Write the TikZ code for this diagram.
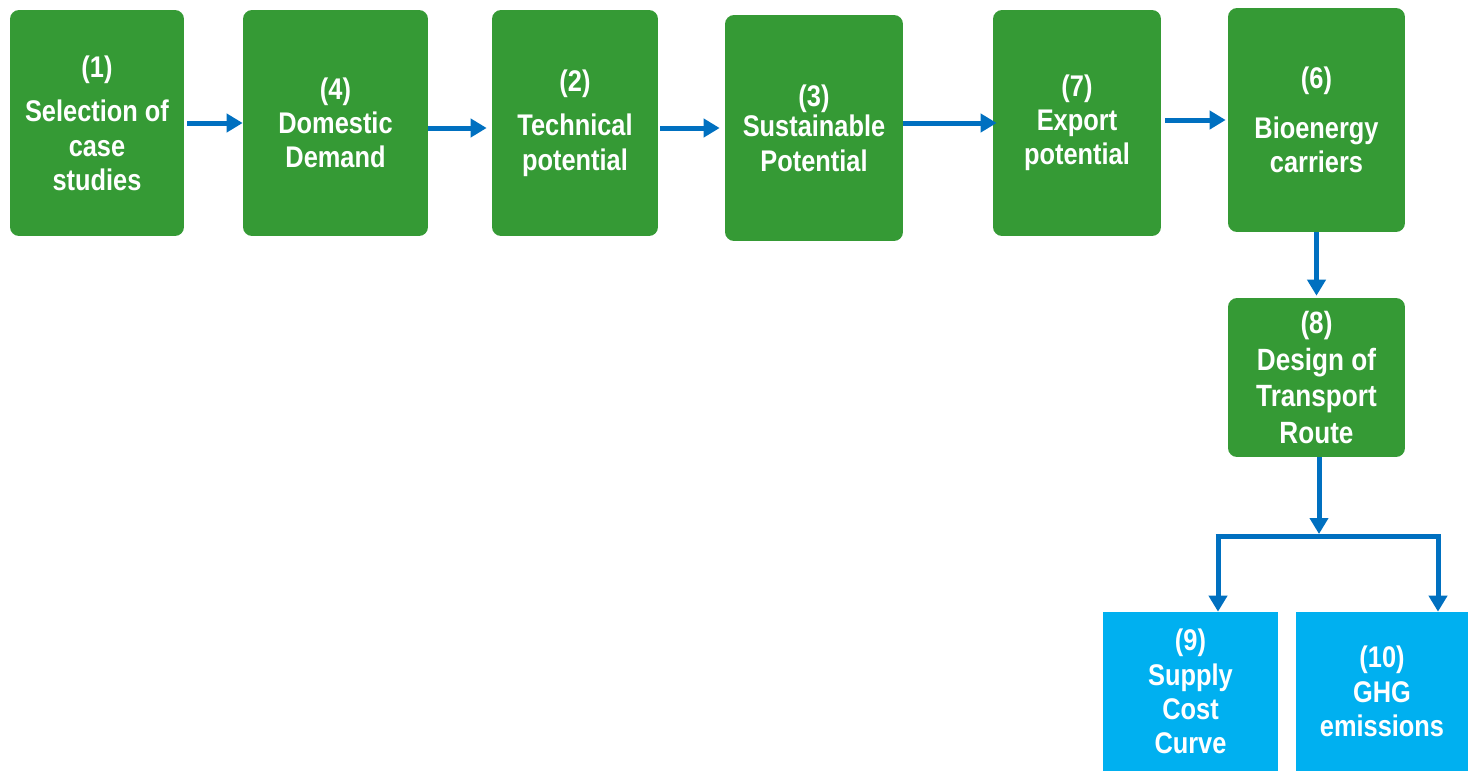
\documentclass[tikz,border=0pt]{standalone}
\usepackage{fontspec}
\newfontfamily\boxfont[FakeStretch=0.85,BoldFont={* Bold}]{Liberation Sans}
\usepackage{tikz}
\usetikzlibrary{arrows.meta}

\definecolor{stagegreen}{HTML}{359A35}
\definecolor{resultblue}{HTML}{00B0F0}
\definecolor{flowblue}{HTML}{0070C0}

\tikzset{
  stage/.style 2 args={rectangle, rounded corners=0.18cm, fill=stagegreen, text=white,
    align=center, inner sep=0pt, minimum width=#1cm, minimum height=#2cm,
    font=\boxfont\bfseries\fontsize{17pt}{19.5pt}\selectfont},
  result/.style 2 args={stage={#1}{#2}, rounded corners=0pt, fill=resultblue},
  flow/.style={line width=0.1cm, flowblue, -{Triangle[length=0.32cm,width=0.36cm]}},
  bar/.style={line width=0.1cm, flowblue}
}

\begin{document}
\begin{tikzpicture}[x=0.02cm, y=-0.02cm]
      \useasboundingbox (0,0) rectangle (1468,771);

      % top row of stages
      \node[stage={3.48}{4.52}](b1) at (97,123){(1)\\[6pt]Selection of\\case\\studies};
      \node[stage={3.70}{4.52}](b4) at (335.5,123){(4)\\Domestic\\Demand};
      \node[stage={3.32}{4.52}](b2) at (575,123){(2)\\[6pt]Technical\\potential};
      \node[stage={3.56}{4.52}](b3) at (814,128){(3)\\[-2pt]Sustainable\\Potential};
      \node[stage={3.36}{4.52}](b7) at (1077,123){(7)\\Export\\potential};
      \node[stage={3.54}{4.48}](b6) at (1316.5,120){(6)\\[9pt]Bioenergy\\carriers};

      % transport route
      \node[stage={3.54}{3.18}, font=\boxfont\bfseries\fontsize{17.5pt}{21pt}\selectfont](b8) at (1316.5,377.5){(8)\\Design of\\Transport\\Route};

      % results
      \node[result={3.50}{3.18}](b9) at (1190.5,691.5){(9)\\Supply\\Cost\\Curve};
      \node[result={3.44}{3.18}](b10) at (1382,691.5){(10)\\GHG\\emissions};

      % split point
      \coordinate (split) at (1319,536);
      \coordinate (lsplit) at (1218,536);
      \coordinate (rsplit) at (1438,536);

      % arrows along the top row
      \draw[flow] ([xshift=0.06cm]b1.east) -- (b4.west);
      \draw[flow] ([yshift=-0.1cm]b4.east) -- ([xshift=-0.1cm,yshift=-0.1cm]b2.west);
      \draw[flow] ([xshift=0.04cm]b2.east |- b3.west) -- ([xshift=-0.1cm]b3.west);
      \draw[flow] (b3.east |- b7.west) -- ([xshift=0.08cm]b7.west);
      \draw[flow] ([xshift=0.08cm]b7.east |- b6.west) -- ([xshift=-0.04cm]b6.west);

      % down to route and results
      \draw[flow] (b6.south) -- ([yshift=0.04cm]b8.north);
      \draw[flow] (split |- b8.south) -- ([yshift=0.04cm]split);
      \draw[bar] ([xshift=-0.05cm]lsplit) -- ([xshift=0.05cm]rsplit);
      \draw[flow] (lsplit) -- (lsplit |- b9.north);
      \draw[flow] (rsplit) -- (rsplit |- b10.north);
    \end{tikzpicture}
\end{document}
